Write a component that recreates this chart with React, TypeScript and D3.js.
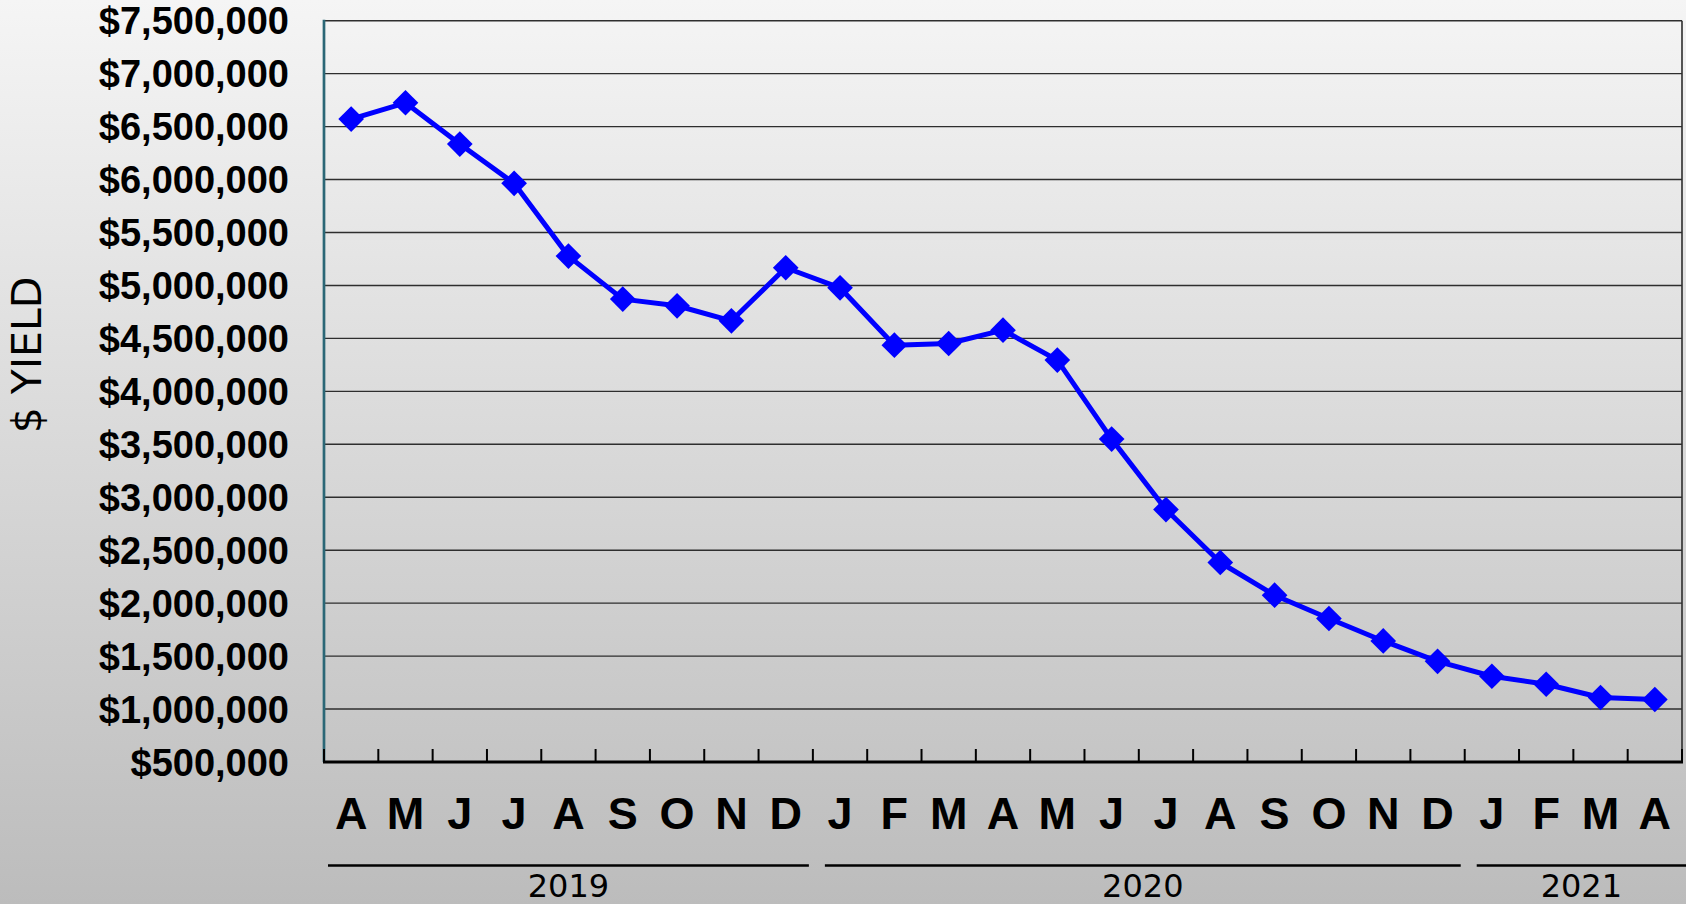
import React from 'react';
import * as d3 from 'd3';

const months = ['A','M','J','J','A','S','O','N','D','J','F','M','A','M','J','J','A','S','O','N','D','J','F','M','A'];
const yieldValues = [6571000, 6725000, 6335000, 5964000, 5277000, 4871000, 4808000, 4666000, 5167000, 4978000, 4436000, 4452000, 4578000, 4295000, 3549000, 2884000, 2384000, 2075000, 1855000, 1643000, 1451000, 1310000, 1234000, 1109000, 1090000];
const yTicks = [500000, 1000000, 1500000, 2000000, 2500000, 3000000, 3500000, 4000000, 4500000, 5000000, 5500000, 6000000, 6500000, 7000000, 7500000];
const yearLabels = ['2019', '2020', '2021'];
const yearStarts = [0, 9, 21];
const yearEnds = [9, 21, 25];

const W = 1686;
const H = 904;
const M = { left: 324, right: 4, top: 20.7, bottom: 142 };

export default function App() {
  const idx = months.map((_, i) => i);
  const x = d3.scaleBand<number>().domain(idx).range([M.left, W - M.right]).padding(0);
  const bw = x.bandwidth();
  const y = d3.scaleLinear().domain([500000, 7500000]).range([H - M.bottom, M.top]);
  const fmt = (v: number) => '$' + d3.format(',')(v);
  const line = d3.line<number>().x((_, i) => (x(i) as number) + bw / 2).y((d) => y(d));
  const diamond = d3.symbol().type(d3.symbolSquare).size(330)();
  const x0 = M.left;
  const x1 = W - M.right;
  const yBase = y(500000);
  const yTop = y(7500000);
  const tickIdx = d3.range(0, months.length + 1);
  const edge = (i: number) => (i === months.length ? x1 : (x(i) as number));

  return (
    <svg width={W} height={H} style={{ position: 'absolute', left: 0, top: 0, display: 'block' }}>
      <defs>
        <linearGradient id="bg" x1="0" y1="0" x2="0" y2="1">
          <stop offset="0" stopColor="#f5f5f5" />
          <stop offset="1" stopColor="#bcbcbc" />
        </linearGradient>
      </defs>
      <rect x={0} y={0} width={W} height={H} fill="url(#bg)" />
      {/* gridlines */}
      {yTicks.slice(1).map((t) => (
        <line key={t} x1={x0} x2={x1} y1={y(t)} y2={y(t)} stroke="#2e2e2e" strokeWidth={1.4} />
      ))}
      {/* right border */}
      <line x1={x1} x2={x1} y1={yTop} y2={yBase} stroke="#2e2e2e" strokeWidth={1.6} />
      {/* left axis */}
      <line x1={x0} x2={x0} y1={yTop - 1} y2={yBase} stroke="#2b6776" strokeWidth={2.7} />
      {/* x axis */}
      <line x1={x0 - 1} x2={x1 + 1} y1={yBase} y2={yBase} stroke="#000" strokeWidth={3} />
      {tickIdx.map((i) => (
        <line key={i} x1={edge(i)} x2={edge(i)} y1={yBase - 13} y2={yBase} stroke="#000" strokeWidth={2} />
      ))}
      {/* y tick labels */}
      {yTicks.map((t) => (
        <text key={t} x={289} y={y(t)} dy="0.36em" textAnchor="end"
          style={{ fontFamily: '"Liberation Sans", Arial, sans-serif', fontWeight: 700, fontSize: 38 }} fill="#000">
          {fmt(t)}
        </text>
      ))}
      {/* month labels */}
      {months.map((m, i) => (
        <text key={i} x={(x(i) as number) + bw / 2} y={829} textAnchor="middle"
          style={{ fontFamily: '"Liberation Sans", Arial, sans-serif', fontWeight: 700, fontSize: 45 }} fill="#000">
          {m}
        </text>
      ))}
      {/* year lines + labels */}
      {yearLabels.map((lab, k) => {
        const s = yearStarts[k];
        const e = yearEnds[k];
        const lx1 = edge(s) + (s === 0 ? 4 : 12);
        const lx2 = e === months.length ? W : edge(e) - 4;
        return (
          <g key={lab}>
            <line x1={lx1} x2={lx2} y1={865.5} y2={865.5} stroke="#000" strokeWidth={2.6} />
            <text x={(lx1 + lx2) / 2} y={897} textAnchor="middle"
              style={{ fontFamily: '"DejaVu Sans", sans-serif', fontSize: 32 }} fill="#000">
              {lab}
            </text>
          </g>
        );
      })}
      {/* y axis title */}
      <text transform="translate(41,355) rotate(-90)" textAnchor="middle"
        style={{ fontFamily: '"DejaVu Sans", sans-serif', fontSize: 41 }} fill="#000">
        $ YIELD
      </text>
      {/* series */}
      <path d={line(yieldValues) || ''} fill="none" stroke="#0000ff" strokeWidth={5} strokeLinejoin="round" />
      {yieldValues.map((v, i) => (
        <path key={i} d={diamond || ''} fill="#0000ff"
          transform={`translate(${(x(i) as number) + bw / 2},${y(v)}) rotate(45)`} />
      ))}
    </svg>
  );
}
